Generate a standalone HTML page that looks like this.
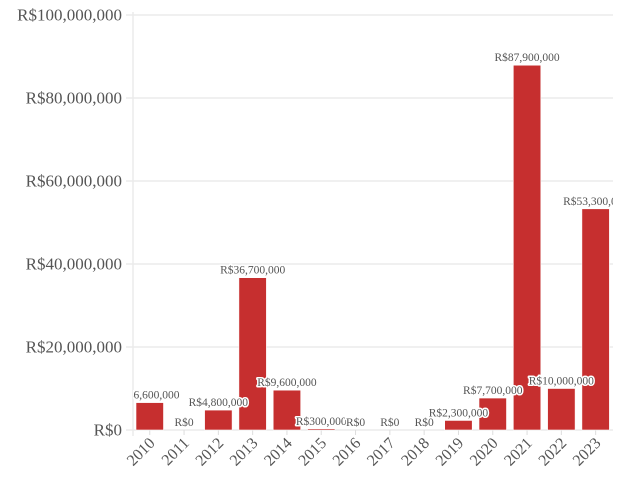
<!DOCTYPE html>
<html><head><meta charset="utf-8"><style>
html,body{margin:0;padding:0;background:#fff;}
svg{display:block;font-family:"Liberation Serif","DejaVu Serif",serif;}
</style></head><body>
<svg id="c" width="620" height="479" viewBox="0 0 620 479" xmlns="http://www.w3.org/2000/svg">
<defs><clipPath id="pc"><rect x="133" y="0" width="480" height="440"/></clipPath></defs>
<g id="grid"></g>
<g id="bars" clip-path="url(#pc)"></g>
<g id="labels" clip-path="url(#pc)"></g>
<g id="xl"></g>
</svg>
<script>
var ns="http://www.w3.org/2000/svg";
function el(t,a,p,txt){var e=document.createElementNS(ns,t);for(var k in a)e.setAttribute(k,a[k]);if(txt!=null)e.textContent=txt;document.getElementById(p).appendChild(e);return e;}
var y0=430,s=4.15;
var ticks=["R$0","R$20,000,000","R$40,000,000","R$60,000,000","R$80,000,000","R$100,000,000"];
for(var i=0;i<6;i++){var y=y0-i*20*s;
 el("line",{x1:126,x2:613,y1:y,y2:y,stroke:"#ebebeb","stroke-width":1.5},"grid");
 el("text",{x:122,y:y+5.5,"text-anchor":"end","font-size":"17",fill:"#555"},"grid",ticks[i]);}
el("line",{x1:133,x2:133,y1:12,y2:436,stroke:"#ebebeb","stroke-width":1.5},"grid");
var v=[6.6,0,4.8,36.7,9.6,0.3,0,0,0,2.3,7.7,87.9,10,53.3];
var lab=["R$6,600,000","R$0","R$4,800,000","R$36,700,000","R$9,600,000","R$300,000","R$0","R$0","R$0","R$2,300,000","R$7,700,000","R$87,900,000","R$10,000,000","R$53,300,000"];
for(var i=0;i<14;i++){var x=136+i*34.3,cx=x+13.75,h=v[i]*s;
 if(h>0)el("rect",{x:x,y:y0-h,width:27.5,height:h,fill:"#c62f2f",stroke:"#fff","stroke-width":0.6},"bars");
 el("line",{x1:cx,x2:cx,y1:y0,y2:y0+5,stroke:"#ddd"},"grid");
 el("text",{x:cx,y:y0-h-4,"text-anchor":"middle","font-size":"11.5",fill:"#555",stroke:"#fff","stroke-width":3,"paint-order":"stroke","stroke-linejoin":"round"},"labels",lab[i]);
 el("text",{x:0,y:0,"text-anchor":"end","font-size":"16",fill:"#555",transform:"translate("+(cx+6)+","+(y0+14)+") rotate(-45)"},"xl",String(2010+i));}
</script>
</body></html>
